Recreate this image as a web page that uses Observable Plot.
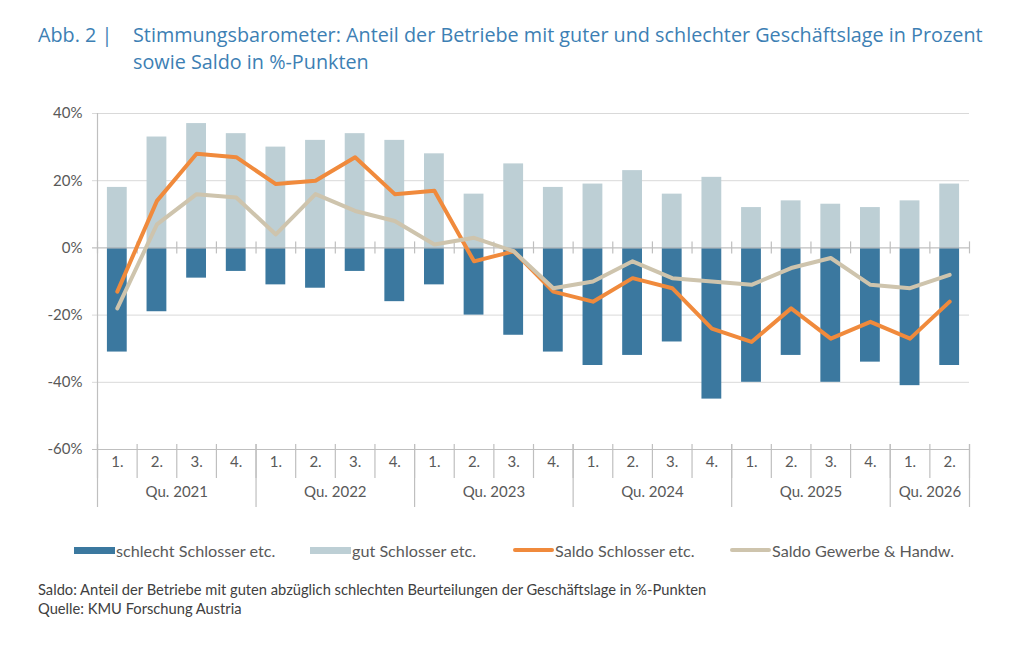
<!DOCTYPE html>
<html>
<head>
<meta charset="utf-8">
<script src="https://cdn.jsdelivr.net/npm/d3@7"></script>
<script src="https://cdn.jsdelivr.net/npm/@observablehq/plot@0.6"></script>
<style>
  html, body { margin: 0; padding: 0; background: #fff; }
  body { width: 1024px; height: 645px; position: relative; overflow: hidden; font-family: Lato, "Open Sans", sans-serif; }
  .title { position: absolute; left: 38px; top: 21px; font-family: "Open Sans", sans-serif; font-size: 19.8px; color: #3d7fb4; line-height: 27px; }
  .title .num { position: absolute; left: 0; top: 0; white-space: nowrap; }
  .title .txt { position: absolute; left: 95px; top: 0; white-space: nowrap; }
  #chart { position: absolute; left: 0; top: 95px; }
  .legend-item { position: absolute; top: 540px; height: 20px; display: flex; align-items: center; font-size: 16.2px; color: #595959; white-space: nowrap; }
  .sw { display: inline-block; width: 41px; margin-right: 1px; }
  .foot { position: absolute; left: 38px; font-size: 14.7px; color: #404040; white-space: nowrap; }
</style>
</head>
<body>
<div class="title">
  <span class="num">Abb. 2 |</span>
  <span class="txt">Stimmungsbarometer: Anteil der Betriebe mit guter und schlechter Geschäftslage in Prozent<br>sowie Saldo in %-Punkten</span>
</div>
<div id="chart"></div>
<div id="legend"></div>
<div class="foot" style="top:580px">Saldo: Anteil der Betriebe mit guten abzüglich schlechten Beurteilungen der Geschäftslage in %-Punkten</div>
<div class="foot" style="top:599px">Quelle: KMU Forschung Austria</div>
<script>
// Quarters per year and their labels
const yearLabels = ["Qu. 2021", "Qu. 2022", "Qu. 2023", "Qu. 2024", "Qu. 2025", "Qu. 2026"];
const quartersPerYear = [4, 4, 4, 4, 4, 2];
const quarterLabels = ["1.", "2.", "3.", "4.", "1.", "2.", "3.", "4.", "1.", "2.", "3.", "4.",
                       "1.", "2.", "3.", "4.", "1.", "2.", "3.", "4.", "1.", "2."];

// Shares in percent and balances in percentage points
const gut = [18, 33, 37, 34, 30, 32, 34, 32, 28, 16, 25, 18, 19, 23, 16, 21, 12, 14, 13, 12, 14, 19];
const schlecht = [-31, -19, -9, -7, -11, -12, -7, -16, -11, -20, -26, -31, -35, -32, -28, -45, -40, -32, -40, -34, -41, -35];
const saldoSchlosser = [-13, 14, 28, 27, 19, 20, 27, 16, 17, -4, -1, -13, -16, -9, -12, -24, -28, -18, -27, -22, -27, -16];
const saldoGewerbe = [-18, 7, 16, 15, 4, 16, 11, 8, 1, 3, -1, -12, -10, -4, -9, -10, -11, -6, -3, -11, -12, -8];

const yTicks = [-60, -40, -20, 0, 20, 40];

const colors = {
  schlecht: "#3b789f",
  gut: "#bdcfd5",
  saldoSchlosser: "#f08a3c",
  saldoGewerbe: "#cec4ad"
};

// One row per quarter, positioned by index on a linear x scale
const rows = quarterLabels.map((q, i) => ({
  i, q,
  gut: gut[i],
  schlecht: schlecht[i],
  saldoSchlosser: saldoSchlosser[i],
  saldoGewerbe: saldoGewerbe[i]
}));
const n = rows.length;
const quarterBounds = d3.range(n + 1);
const yearEnds = Array.from(d3.cumsum(quartersPerYear));
const yearBounds = [0, ...yearEnds];
const years = yearLabels.map((label, k) => ({
  label,
  mid: (yearBounds[k] + yearBounds[k + 1]) / 2
}));

const axisGray = "#bfbfbf";
const gridGray = "#d9d9d9";

const chart = Plot.plot({
  width: 1024,
  height: 425,
  marginTop: 18,
  marginBottom: 71,
  marginLeft: 97,
  marginRight: 55,
  style: { fontFamily: "Lato, sans-serif", fontSize: "15px", color: "#595959", background: "transparent" },
  x: { type: "linear", domain: [0, n], axis: null },
  y: { domain: [-60, 40], axis: null },
  marks: [
    // horizontal gridlines
    Plot.ruleY(yTicks.filter(t => t !== 0 && t !== -60), { stroke: gridGray, strokeWidth: 1, insetLeft: -5 }),
    // bars
    Plot.rectY(rows, { x1: d => d.i + 0.25, x2: d => d.i + 0.75, y1: 0, y2: "gut", fill: colors.gut }),
    Plot.rectY(rows, { x1: d => d.i + 0.25, x2: d => d.i + 0.75, y1: 0, y2: "schlecht", fill: colors.schlecht }),
    // zero line with quarter ticks
    Plot.ruleY([0], { stroke: axisGray, strokeWidth: 1.2, insetLeft: -5 }),
    Plot.ruleX(quarterBounds, { y1: 0, y2: 0, insetTop: -6, insetBottom: -6, stroke: axisGray, strokeWidth: 1.2 }),
    // bottom axis line and category separators
    Plot.ruleY([-60], { stroke: axisGray, strokeWidth: 1.2, insetLeft: -5 }),
    Plot.ruleX(quarterBounds, { y1: -60, y2: -60, insetTop: -5, insetBottom: -29, stroke: axisGray, strokeWidth: 1.2 }),
    Plot.ruleX(yearBounds, { y1: -60, y2: -60, insetTop: -5, insetBottom: -58, stroke: axisGray, strokeWidth: 1.2 }),
    // vertical value axis line
    Plot.ruleX([0], { y1: 40, y2: -60, stroke: axisGray, strokeWidth: 1.2 }),
    // balance lines
    Plot.line(rows, { x: d => d.i + 0.5, y: "saldoSchlosser", stroke: colors.saldoSchlosser, strokeWidth: 4, strokeLinecap: "round", strokeLinejoin: "round" }),
    Plot.line(rows, { x: d => d.i + 0.5, y: "saldoGewerbe", stroke: colors.saldoGewerbe, strokeWidth: 4, strokeLinecap: "round", strokeLinejoin: "round" }),
    // y tick labels
    Plot.text(yTicks, { x: 0, y: d => d, text: d => d + "%", textAnchor: "end", dx: -15, fill: "#595959" }),
    // quarter and year labels
    Plot.text(rows, { x: d => d.i + 0.5, text: "q", frameAnchor: "bottom", dy: 17, fill: "#595959" }),
    Plot.text(years, { x: "mid", text: "label", frameAnchor: "bottom", dy: 47, fill: "#595959" })
  ]
});
document.getElementById("chart").appendChild(chart);

// Legend
const legendItems = [
  { label: "schlecht Schlosser etc.", color: colors.schlecht, h: 7, left: 74 },
  { label: "gut Schlosser etc.", color: colors.gut, h: 7, left: 310 },
  { label: "Saldo Schlosser etc.", color: colors.saldoSchlosser, h: 4, left: 513 },
  { label: "Saldo Gewerbe & Handw.", color: colors.saldoGewerbe, h: 4, left: 730 }
];
const legend = document.getElementById("legend");
for (const item of legendItems) {
  const el = document.createElement("div");
  el.className = "legend-item";
  el.style.left = item.left + "px";
  const sw = document.createElement("span");
  sw.className = "sw";
  sw.style.height = item.h + "px";
  sw.style.background = item.color;
  if (item.h === 4) sw.style.borderRadius = "2px";
  el.appendChild(sw);
  el.appendChild(document.createTextNode(item.label));
  legend.appendChild(el);
}
</script>
</body>
</html>
